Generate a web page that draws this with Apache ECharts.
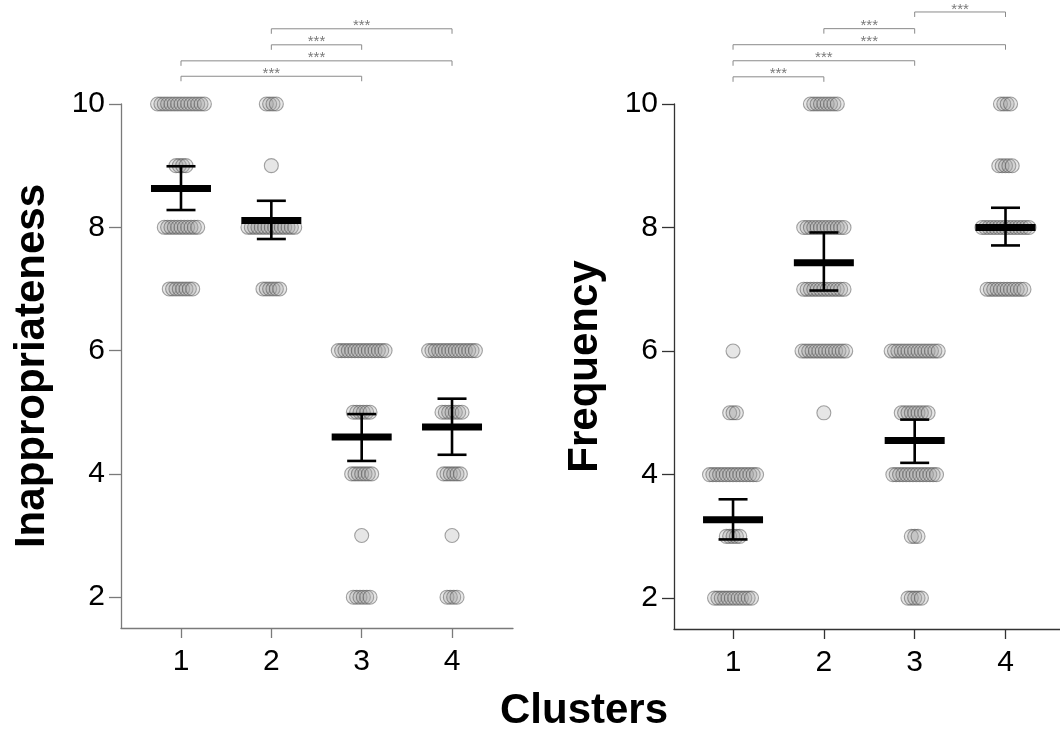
<!DOCTYPE html>
<html><head><meta charset="utf-8">
<script src="https://cdn.jsdelivr.net/npm/echarts@6/dist/echarts.min.js"></script>
<style>html,body{margin:0;padding:0;background:#fff}#c{width:1060px;height:734px}</style>
</head><body><div id="c"></div><script>
// ---------- data ----------
const clusters = [1, 2, 3, 4];
const levels = [2, 3, 4, 5, 6, 7, 8, 9, 10];
const yTicks = [2, 4, 6, 8, 10];
// number of respondents at each level (2..10), per cluster
const inappCounts1 = [0, 0, 0, 0, 0, 8, 11, 4, 15];
const inappCounts2 = [0, 0, 0, 0, 0, 6, 15, 1, 4];
const inappCounts3 = [6, 1, 7, 6, 15, 0, 0, 0, 0];
const inappCounts4 = [4, 1, 6, 7, 15, 0, 0, 0, 0];
const freqCounts1 = [12, 5, 15, 3, 1, 0, 0, 0, 0];
const freqCounts2 = [0, 0, 0, 1, 14, 13, 13, 0, 9];
const freqCounts3 = [5, 3, 14, 9, 15, 0, 0, 0, 0];
const freqCounts4 = [0, 0, 0, 0, 0, 12, 15, 5, 4];
// means and 95% CI
const inappMean = [8.63, 8.11, 4.60, 4.76];
const inappLow  = [8.28, 7.81, 4.21, 4.31];
const inappHigh = [8.99, 8.43, 4.97, 5.22];
const freqMean = [3.27, 7.43, 4.55, 8.00];
const freqLow  = [2.95, 6.98, 4.19, 7.71];
const freqHigh = [3.60, 7.92, 4.89, 8.32];
// significance brackets: [from cluster, to cluster, height level]
const inappBrackets = [[1, 3, 10.45], [1, 4, 10.70], [2, 3, 10.96], [2, 4, 11.22]];
const freqBrackets = [[1, 2, 10.44], [1, 3, 10.70], [1, 4, 10.96], [2, 3, 11.22], [3, 4, 11.49]];
const sigLabel = '***';

// ---------- build ----------
const FONT = 'Liberation Sans, Arial, sans-serif';
const STEP = 0.037; // horizontal spacing of swarm points (axis units)

function swarm(countsList) {
  const out = [];
  countsList.forEach(function (counts, ci) {
    const c = clusters[ci];
    counts.forEach(function (n, li) {
      for (let i = 0; i < n; i++) {
        out.push([c + (i - (n - 1) / 2) * STEP, levels[li]]);
      }
    });
  });
  return out;
}
function meanData(m, lo, hi) {
  return clusters.map(function (c, i) { return [c, m[i], lo[i], hi[i]]; });
}

function renderMean(params, api) {
  const x = api.value(0);
  const pm = api.coord([x, api.value(1)]);
  const pl = api.coord([x, api.value(2)]);
  const ph = api.coord([x, api.value(3)]);
  const s = { stroke: '#000', lineWidth: 2.6 };
  return { type: 'group', children: [
    { type: 'line', shape: { x1: pl[0], y1: pl[1], x2: ph[0], y2: ph[1] }, style: s },
    { type: 'line', shape: { x1: pl[0] - 14.5, y1: pl[1], x2: pl[0] + 14.5, y2: pl[1] }, style: s },
    { type: 'line', shape: { x1: ph[0] - 14.5, y1: ph[1], x2: ph[0] + 14.5, y2: ph[1] }, style: s },
    { type: 'rect', shape: { x: pm[0] - 30, y: pm[1] - 3.5, width: 60, height: 7 }, style: { fill: '#000' } }
  ] };
}
function renderBracket(params, api) {
  const a = api.coord([api.value(0), api.value(2)]);
  const b = api.coord([api.value(1), api.value(2)]);
  return { type: 'group', children: [
    { type: 'polyline', shape: { points: [[a[0], a[1] + 5], [a[0], a[1]], [b[0], b[1]], [b[0], b[1] + 5]] },
      style: { stroke: '#8a8a8a', lineWidth: 1, fill: null } },
    { type: 'text', style: { text: sigLabel, x: (a[0] + b[0]) / 2, y: a[1] - 2.5, align: 'center',
      verticalAlign: 'middle', fill: '#7a7a7a', fontSize: 15, fontFamily: FONT } }
  ] };
}

function xAxisCfg(gi, min, max, color) {
  return {
    type: 'value', gridIndex: gi, min: min, max: max,
    splitLine: { show: false },
    axisLine: { show: true, lineStyle: { color: color, width: 1.3 } },
    axisTick: { show: true, customValues: clusters, length: 10, lineStyle: { color: color, width: 1.3 } },
    axisLabel: { customValues: clusters, margin: 19, fontSize: 30, color: '#000', fontFamily: FONT }
  };
}
function yAxisCfg(gi, name, color) {
  return {
    type: 'value', gridIndex: gi, min: 1.5, max: 10,
    splitLine: { show: false },
    axisLine: { show: true, lineStyle: { color: color, width: 1.3 } },
    axisTick: { show: true, customValues: yTicks, length: 12, lineStyle: { color: color, width: 1.3 } },
    axisLabel: { customValues: yTicks, margin: 16, fontSize: 30, color: '#000', fontFamily: FONT },
    name: name, nameLocation: 'middle', nameGap: 68,
    nameTextStyle: { fontSize: 42, fontWeight: 'bold', color: '#000', fontFamily: FONT }
  };
}
const pointStyle = { color: 'rgba(160,160,160,0.33)', borderColor: 'rgba(70,70,70,0.6)', borderWidth: 1.1 };

const option = {
  backgroundColor: '#fff',
  animation: false,
  title: { text: 'Clusters', left: 500, top: 690, padding: 0,
    textStyle: { fontSize: 42, fontWeight: 'bold', color: '#000', fontFamily: FONT } },
  grid: [
    { left: 121, top: 104, width: 392, height: 524 },
    { left: 674, top: 104, width: 386, height: 525 }
  ],
  xAxis: [xAxisCfg(0, 0.336, 4.675, '#7a7a7a'), xAxisCfg(1, 0.35, 4.6, '#333')],
  yAxis: [yAxisCfg(0, 'Inappropriateness', '#7a7a7a'), yAxisCfg(1, 'Frequency', '#333')],
  series: [
    { type: 'scatter', xAxisIndex: 0, yAxisIndex: 0, clip: false, symbolSize: 14, itemStyle: pointStyle,
      data: swarm([inappCounts1, inappCounts2, inappCounts3, inappCounts4]) },
    { type: 'scatter', xAxisIndex: 1, yAxisIndex: 1, clip: false, symbolSize: 14, itemStyle: pointStyle,
      data: swarm([freqCounts1, freqCounts2, freqCounts3, freqCounts4]) },
    { type: 'custom', xAxisIndex: 0, yAxisIndex: 0, clip: false, renderItem: renderMean, z: 5,
      data: meanData(inappMean, inappLow, inappHigh) },
    { type: 'custom', xAxisIndex: 1, yAxisIndex: 1, clip: false, renderItem: renderMean, z: 5,
      data: meanData(freqMean, freqLow, freqHigh) },
    { type: 'custom', xAxisIndex: 0, yAxisIndex: 0, clip: false, renderItem: renderBracket,
      data: inappBrackets },
    { type: 'custom', xAxisIndex: 1, yAxisIndex: 1, clip: false, renderItem: renderBracket,
      data: freqBrackets }
  ]
};
const chart = echarts.init(document.getElementById('c'), null, { renderer: 'canvas' });
chart.setOption(option);
</script></body></html>
